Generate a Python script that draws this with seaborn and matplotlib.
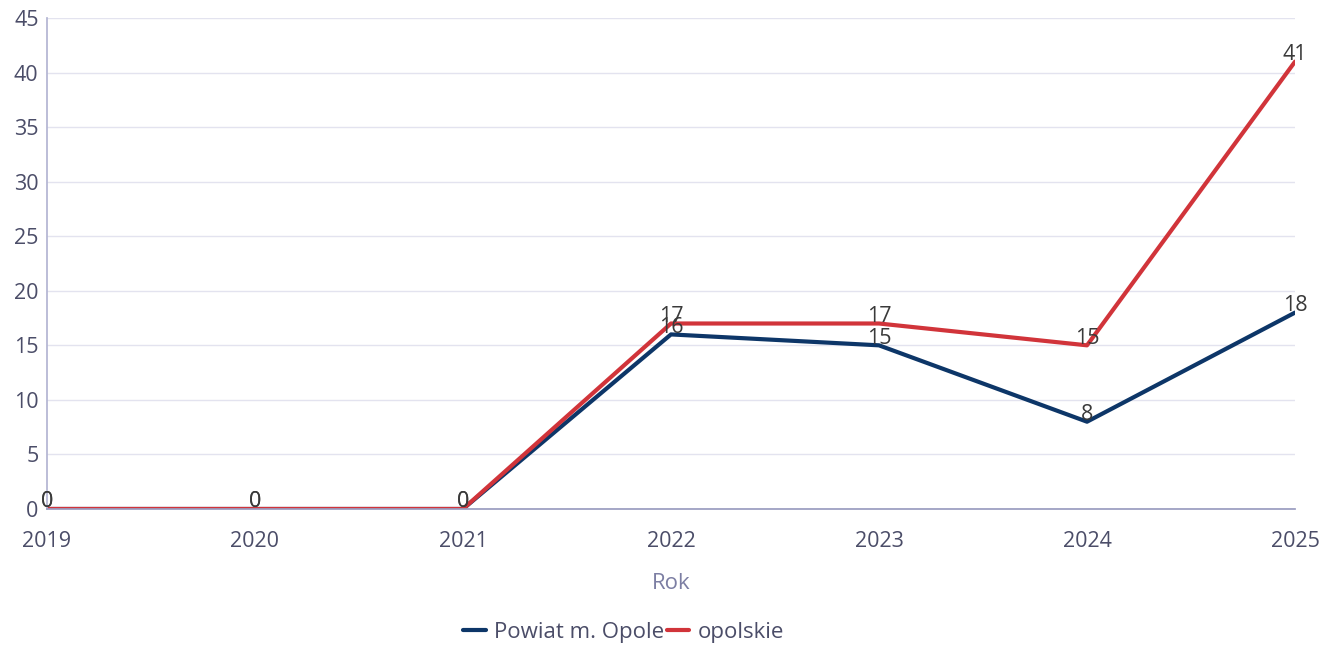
import matplotlib
matplotlib.use("Agg")
import matplotlib.pyplot as plt
import seaborn as sns
import pandas as pd

years = [2019, 2020, 2021, 2022, 2023, 2024, 2025]
powiat = [0, 0, 0, 16, 15, 8, 18]
opolskie = [0, 0, 0, 17, 17, 15, 41]
series_names = ["Powiat m. Opole", "opolskie"]
colors = ["#0d3668", "#d1343a"]

df = pd.DataFrame({
    "Rok": years * 2,
    "value": powiat + opolskie,
    "series": [series_names[0]] * len(years) + [series_names[1]] * len(years),
})

sns.set_theme(style="white")
plt.rcParams["font.family"] = ["Open Sans", "DejaVu Sans"]

fig = plt.figure(figsize=(13.3, 6.47), dpi=100)
ax = fig.add_axes([0.0353, 0.2133, 0.9384, 0.7589])

sns.lineplot(data=df, x="Rok", y="value", hue="series", palette=colors,
             linewidth=3, ax=ax, legend=False)

# value labels
for vals in (powiat, opolskie):
    for x, y in zip(years, vals):
        ax.annotate(str(y), (x, y), xytext=(0, -2.5), textcoords="offset points",
                    ha="center", va="bottom", fontsize=15.5, color="#3a3a3a")

ax.set_xlim(years[0], years[-1])
ax.set_ylim(0, 45)
ax.set_yticks(range(0, 46, 5))
ax.set_xticks(years)
ax.grid(axis="y", color="#e3e3ef", linewidth=1)
ax.set_axisbelow(True)

tick_color = "#4b4d68"
ax.tick_params(axis="both", labelsize=15.5, labelcolor=tick_color, length=0, pad=6)
ax.tick_params(axis="x", pad=16)
for s in ["top", "right"]:
    ax.spines[s].set_visible(False)
ax.spines["left"].set_color("#b3b5d3")
ax.spines["bottom"].set_color("#9a9cc0")

ax.set_xlabel("Rok", fontsize=16, color="#7c7ea3", labelpad=15)
ax.set_ylabel("")

handles = [plt.Line2D([], [], color=c, linewidth=3) for c in colors]
fig.legend(handles, series_names, loc="center", bbox_to_anchor=(0.469, 0.022),
           ncol=2, frameon=False, fontsize=16, handlelength=1.0,
           handletextpad=0.4, columnspacing=0.1, labelcolor=tick_color)

fig.savefig("out.png", dpi=100)
